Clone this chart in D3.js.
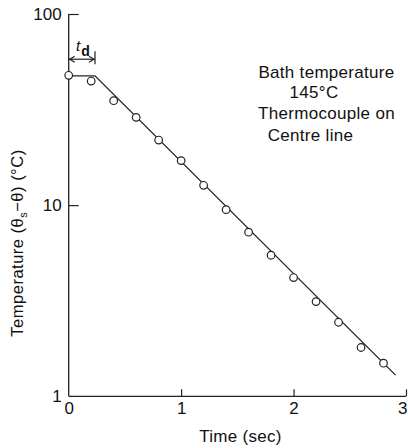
<!DOCTYPE html>
<html><head><meta charset="utf-8">
<script src="https://cdn.jsdelivr.net/npm/d3@7"></script>
<style>
html,body{margin:0;padding:0;background:#fff;}
svg{display:block;}
text{font-family:"Liberation Sans","DejaVu Sans",sans-serif;fill:#111;}
</style></head>
<body>
<script>
// Data
const times = [0, 0.2, 0.4, 0.6, 0.8, 1.0, 1.2, 1.4, 1.6, 1.8, 2.0, 2.2, 2.4, 2.6, 2.8];
const temps = [47.8, 44.6, 35.2, 28.8, 21.9, 17.1, 12.7, 9.47, 7.22, 5.47, 4.18, 3.13, 2.44, 1.80, 1.49];
const fitTimes = [0, 0.234, 2.907];
const fitTemps = [47.5, 47.5, 1.29];
const tdTime = 0.234;
const tdLevel = 58;
const xTicks = [0, 1, 2, 3];
const yTicks = [1, 10, 100];
const noteLines = ["Bath temperature", "145°C", "Thermocouple on", "Centre line"];

const W = 408, H = 448;
const svg = d3.select("body").append("svg").attr("width", W).attr("height", H);

const x = d3.scaleLinear().domain([0, 3]).range([68.7, 406]);
const y = d3.scaleLog().domain([1, 100]).range([396.3, 14]);
const ink = "#222";

// Axes
const gx = svg.append("g").attr("transform", `translate(0,${y(1)})`)
  .call(d3.axisBottom(x).tickValues(xTicks).tickSize(-7).tickPadding(6).tickFormat(d3.format("d")));
gx.select(".domain").attr("stroke", ink).attr("stroke-width", 1.3).attr("d", `M${x(0)},0H${x(3)}`);
gx.selectAll(".tick line").attr("stroke", ink).attr("stroke-width", 1.2);
gx.selectAll(".tick").filter(d => d === 0).select("line").remove();
gx.selectAll(".tick text").attr("font-size", 17).attr("font-family", "Liberation Sans, sans-serif").attr("fill", "#111");
gx.selectAll(".tick").filter(d => d === 3).select("text").attr("text-anchor", "end").attr("dx", 1);

const gy = svg.append("g").attr("transform", `translate(${x(0)},0)`)
  .call(d3.axisLeft(y).tickValues(yTicks).tickSize(-10).tickPadding(7).tickFormat(d3.format("d")));
gy.select(".domain").attr("stroke", ink).attr("stroke-width", 1.3).attr("d", `M0,${y(100)}V${y(1)}`);
gy.selectAll(".tick line").attr("stroke", ink).attr("stroke-width", 1.2);
gy.selectAll(".tick").filter(d => d === 1).select("line").remove();
gy.selectAll(".tick text").attr("font-size", 17).attr("font-family", "Liberation Sans, sans-serif").attr("fill", "#111");

// Axis titles
svg.append("text").attr("x", 240.5).attr("y", 442)
  .attr("text-anchor", "middle").attr("font-size", 17).attr("letter-spacing", 0.3).text("Time (sec)");

const yl = svg.append("text").attr("transform", `translate(23,243) rotate(-90)`)
  .attr("text-anchor", "middle").attr("font-size", 16.5).attr("letter-spacing", 0.5);
yl.append("tspan").text("Temperature (θ");
yl.append("tspan").attr("font-size", 11).attr("dy", 4).text("s");
yl.append("tspan").attr("dy", -4).text("−θ) (°C)");

// Fitted line
const line = d3.line().x((d, i) => x(fitTimes[i])).y((d, i) => y(fitTemps[i]));
svg.append("path").datum(fitTimes).attr("d", line)
  .attr("fill", "none").attr("stroke", ink).attr("stroke-width", 1.3);

// Data points
svg.append("g").selectAll("circle").data(times).join("circle")
  .attr("cx", (d, i) => x(times[i])).attr("cy", (d, i) => y(temps[i]))
  .attr("r", 3.8).attr("fill", "#fff").attr("stroke", ink).attr("stroke-width", 1.2);

// t_d annotation
const ay = y(tdLevel);
const ax0 = x(0), ax1 = x(tdTime);
const ann = svg.append("g").attr("stroke", ink).attr("stroke-width", 1.2).attr("fill", "none");
ann.append("line").attr("x1", ax0).attr("x2", ax1).attr("y1", ay).attr("y2", ay);
ann.append("line").attr("x1", ax1).attr("x2", ax1).attr("y1", ay - 8).attr("y2", ay + 5);
ann.append("path").attr("d", `M${ax0 + 6},${ay - 3}L${ax0 + 1},${ay}L${ax0 + 6},${ay + 3}`);
ann.append("path").attr("d", `M${ax1 - 6},${ay - 3}L${ax1 - 1},${ay}L${ax1 - 6},${ay + 3}`);
const td = svg.append("text").attr("x", 76).attr("y", 51).attr("font-size", 15).attr("font-style", "italic");
td.append("tspan").text("t");
td.append("tspan").attr("font-size", 14).attr("font-style", "normal").attr("font-weight", "bold").attr("dy", 5).attr("dx", 1).text("d");

// Notes
const noteX = [326.5, 314, 326.5, 310.5];
const noteY = [78, 98, 119, 141];
svg.append("g").selectAll("text").data(noteLines).join("text")
  .attr("x", (d, i) => noteX[i]).attr("y", (d, i) => noteY[i])
  .attr("text-anchor", "middle").attr("font-size", 17).attr("letter-spacing", 0.3).text(d => d);
</script>
</body></html>
